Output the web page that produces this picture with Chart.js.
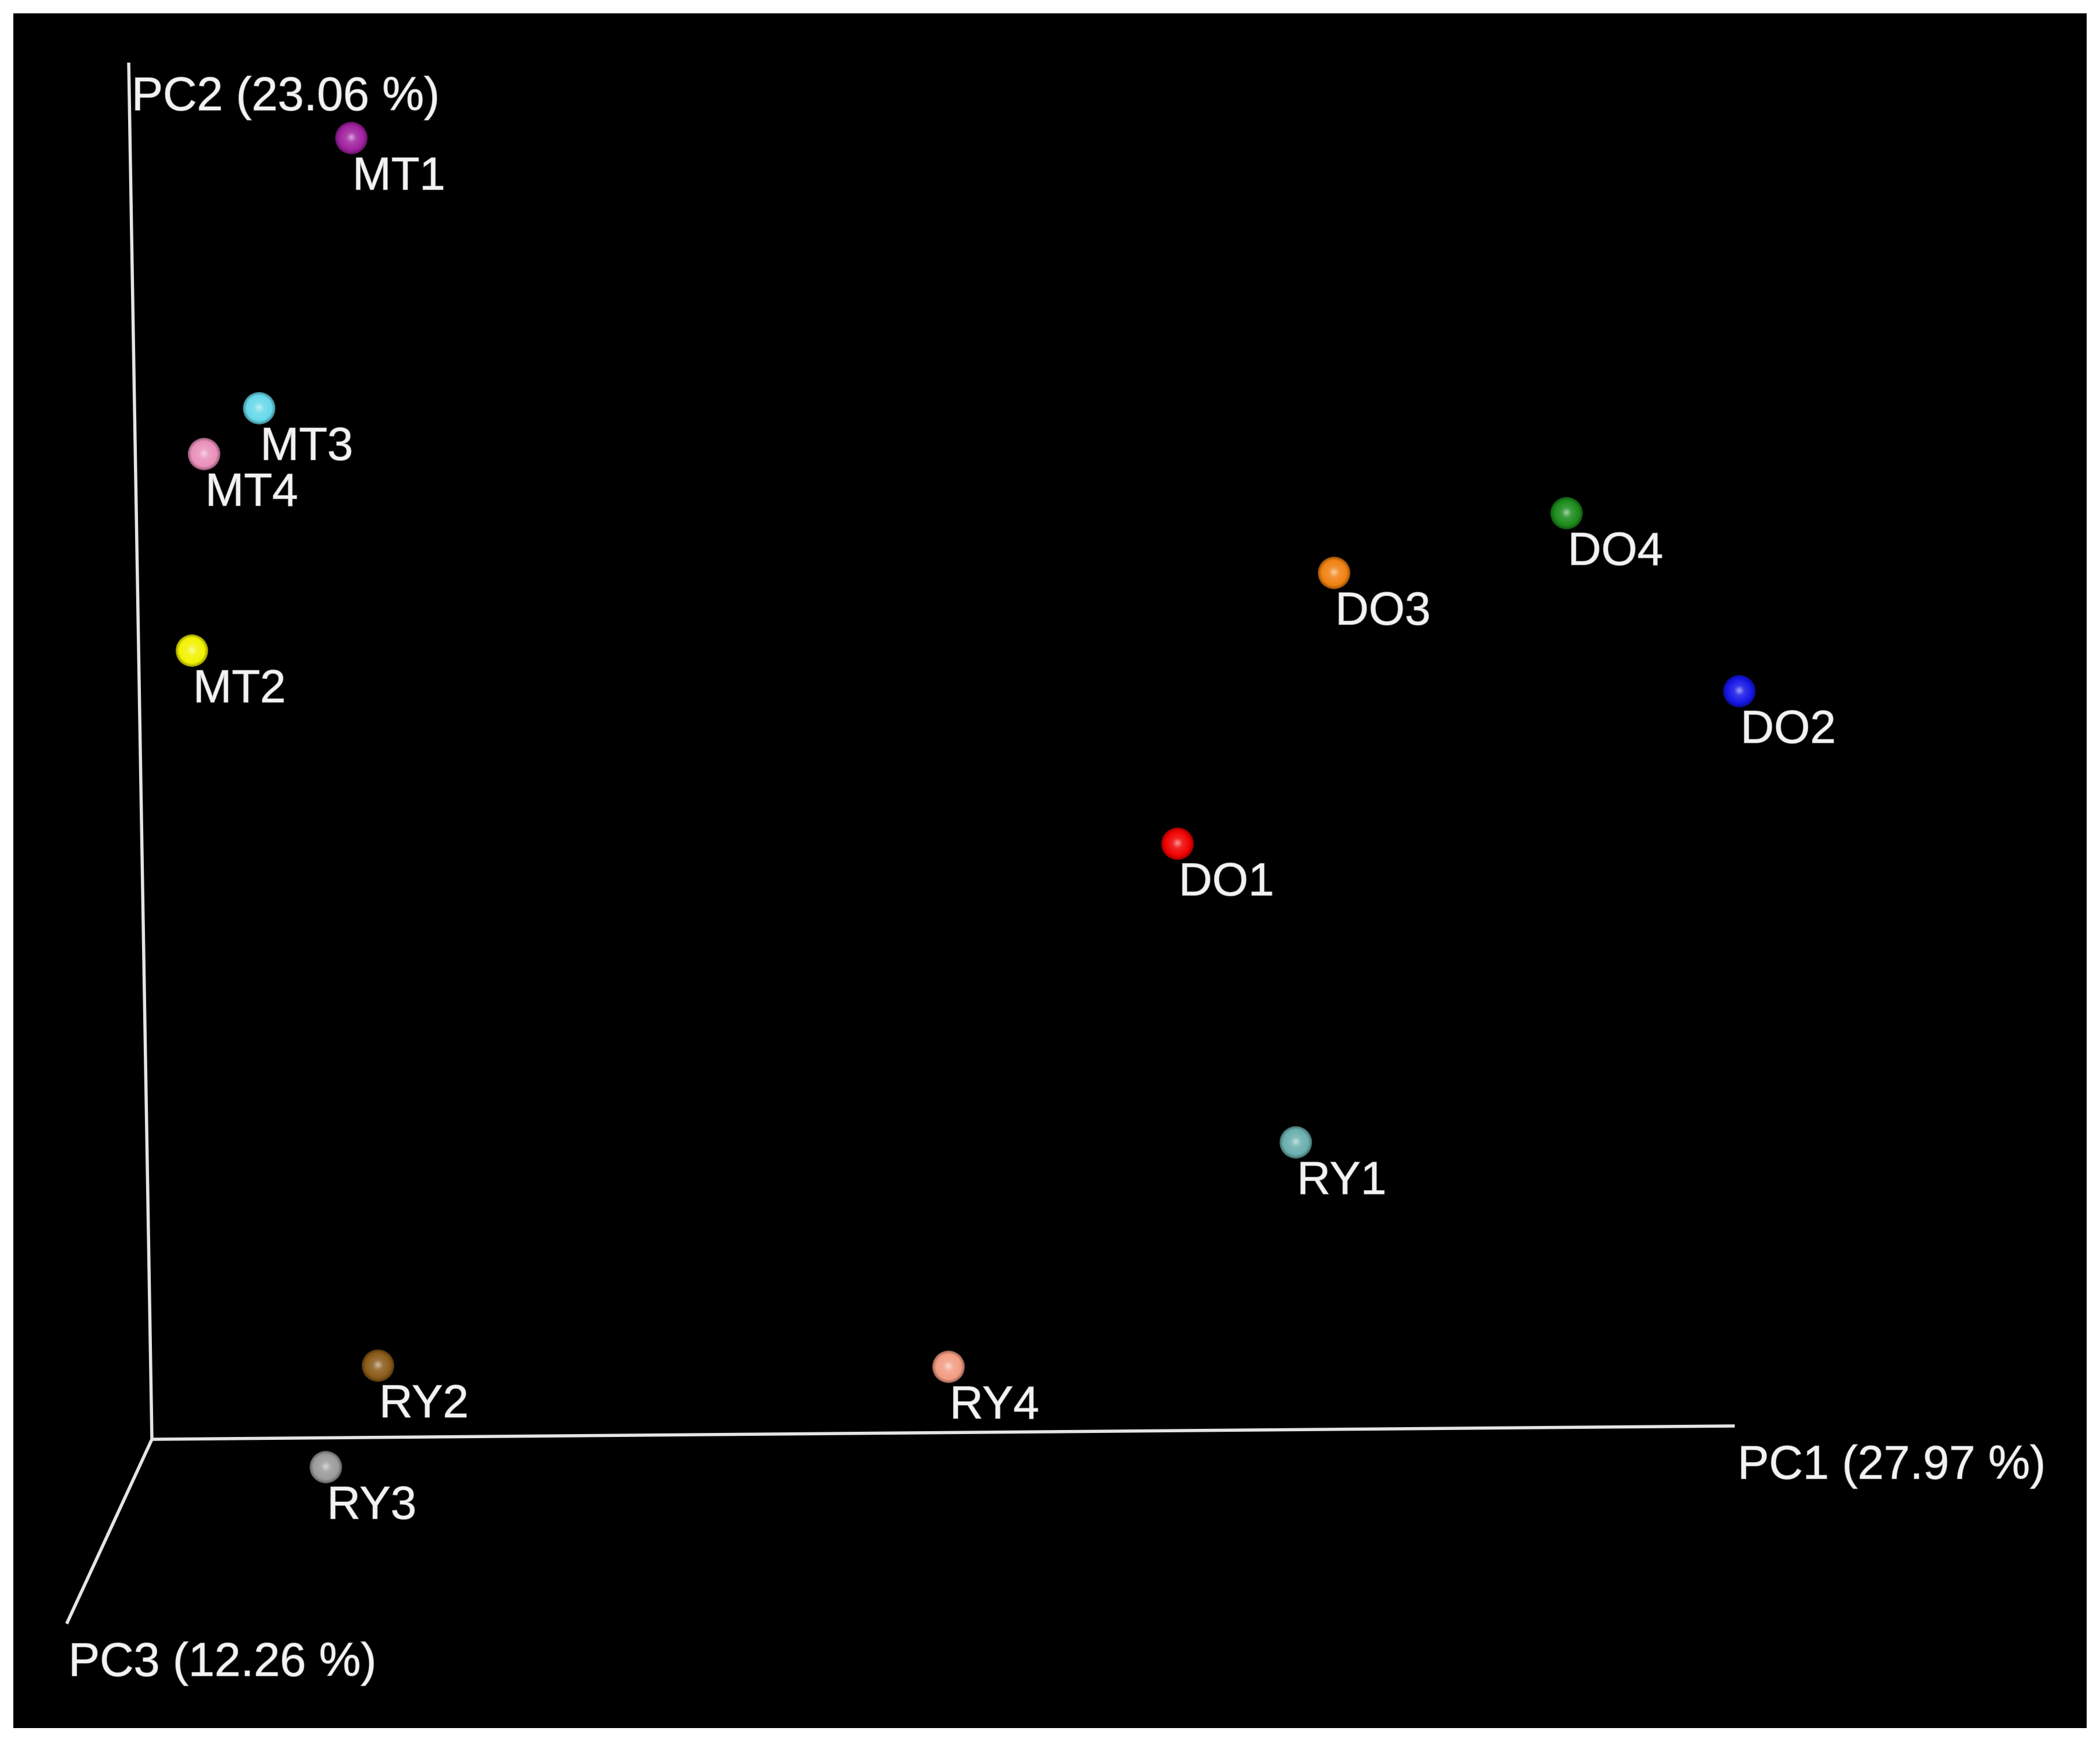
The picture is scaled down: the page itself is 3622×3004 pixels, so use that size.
<!DOCTYPE html>
<html>
<head>
<meta charset="utf-8">
<script src="https://cdn.jsdelivr.net/npm/chart.js@4"></script>
<style>
  html, body { margin: 0; padding: 0; background: #ffffff; }
  #wrap { position: absolute; left: 23px; top: 23px; width: 3576px; height: 2957px; background: #000000; }
  canvas { display: block; }
</style>
</head>
<body>
<div id="wrap"><canvas id="c" width="3576" height="2957"></canvas></div>
<script>
// ---- data (projected 3D PCoA view, screen units; origin at axis corner) ----
const sampleNames = ["MT1", "MT3", "MT4", "MT2", "DO4", "DO3", "DO2", "DO1", "RY1", "RY2", "RY4", "RY3"];
const projX = [34.4, 18.5, 9.0, 6.9, 244.0, 203.9, 273.8, 176.9, 197.3, 39.0, 137.4, 30.0];
const projY = [224.4, 177.8, 169.9, 136.0, 159.7, 149.4, 129.0, 102.7, 51.2, 12.7, 12.5, -4.8];
const sampleColors = ["#a0209f", "#66d8ea", "#ea8fba", "#f2f200", "#1a8a1a", "#f08010", "#1414e6", "#f00000", "#6aaeae", "#8a5a18", "#f29c82", "#9a9a9a"];

const axisNames = ["PC1 (27.97 %)", "PC2 (23.06 %)", "PC3 (12.26 %)"];
const axisEndX = [273.0, -4.0, -14.7];
const axisEndY = [2.3, 237.4, -31.8];
const axisLabelX = [273.5, -3.5, -14.4];
const axisLabelY = [-6.8, 229.2, -40.8];

// ---- sphere sprites ----
function shade(hex, f) {
  const n = parseInt(hex.slice(1), 16);
  let r = (n >> 16) & 255, g = (n >> 8) & 255, b = n & 255;
  if (f >= 0) { r += (255 - r) * f; g += (255 - g) * f; b += (255 - b) * f; }
  else { r *= (1 + f); g *= (1 + f); b *= (1 + f); }
  return `rgb(${Math.round(r)},${Math.round(g)},${Math.round(b)})`;
}
function sphere(color, d) {
  const cv = document.createElement('canvas');
  cv.width = d; cv.height = d;
  const c = cv.getContext('2d');
  const r = d / 2;
  const gr = c.createRadialGradient(r, r * 0.95, 0, r, r, r);
  gr.addColorStop(0, shade(color, 0.6));
  gr.addColorStop(0.3, shade(color, 0.15));
  gr.addColorStop(0.75, color);
  gr.addColorStop(1, shade(color, -0.45));
  c.fillStyle = gr;
  c.beginPath(); c.arc(r, r, r - 1, 0, Math.PI * 2); c.fill();
  return cv;
}
const sprites = sampleColors.map(col => sphere(col, 58));

const pointData = projX.map((x, i) => ({ x: x, y: projY[i] }));
const axisDatasets = axisEndX.map((ex, i) => ({
  type: 'line',
  data: [{ x: 0, y: 0 }, { x: ex, y: axisEndY[i] }],
  borderColor: '#e4e4e4',
  borderWidth: 5.5,
  pointRadius: 0,
  showLine: true,
  fill: false,
  order: 2
}));

const labelPlugin = {
  id: 'labels3d',
  afterDatasetsDraw(chart) {
    const ctx = chart.ctx;
    const xs = chart.scales.x, ys = chart.scales.y;
    ctx.save();
    ctx.fillStyle = '#f2f2f2';
    ctx.strokeStyle = 'rgba(242,242,242,0.5)';
    ctx.lineWidth = 1.5;
    ctx.textBaseline = 'alphabetic';
    ctx.textAlign = 'left';
    ctx.font = '81px "Liberation Sans", Arial, sans-serif';
    axisNames.forEach((t, i) => {
      const x = xs.getPixelForValue(axisLabelX[i]), y = ys.getPixelForValue(axisLabelY[i]);
      ctx.fillText(t, x, y); ctx.strokeText(t, x, y);
    });
    ctx.font = '80px "Liberation Sans", Arial, sans-serif';
    sampleNames.forEach((t, i) => {
      const px = xs.getPixelForValue(projX[i]);
      const py = ys.getPixelForValue(projY[i]);
      ctx.fillText(t, px + 2, py + 89); ctx.strokeText(t, px + 2, py + 89);
    });
    ctx.restore();
  }
};

new Chart(document.getElementById('c'), {
  type: 'scatter',
  data: {
    datasets: [
      ...axisDatasets,
      {
        label: 'samples',
        data: pointData,
        pointStyle: sprites,
        pointRadius: 29,
        pointHoverRadius: 29,
        order: 1
      }
    ]
  },
  options: {
    responsive: false,
    animation: false,
    devicePixelRatio: 1,
    layout: { padding: 0, autoPadding: false },
    plugins: { legend: { display: false }, tooltip: { enabled: false } },
    scales: {
      x: { type: 'linear', min: -23.9, max: 333.7, display: false },
      y: { type: 'linear', min: -49.8, max: 245.9, display: false }
    }
  },
  plugins: [labelPlugin]
});
</script>
</body>
</html>
